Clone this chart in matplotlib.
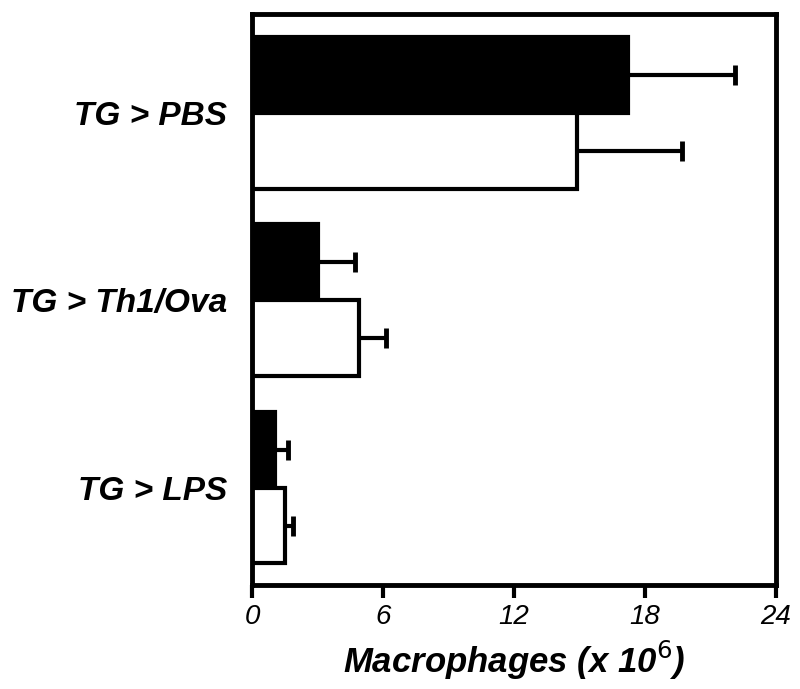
import numpy as np
import matplotlib.pyplot as plt

plt.rcParams['font.family'] = ['Liberation Sans', 'DejaVu Sans']

grupos = ['TG > PBS', 'TG > Th1/Ova', 'TG > LPS']
preto = [17.2, 3.0, 1.05]      # barras pretas
preto_err = [4.9, 1.7, 0.6]
branco = [14.9, 4.9, 1.5]      # barras brancas
branco_err = [4.8, 1.25, 0.4]

y = np.arange(len(grupos))
h = 0.405

fig = plt.figure(figsize=(8, 6.89), dpi=100)
ax = fig.add_axes([0.315, 0.151, 0.655, 0.829])

ax.barh(y - h/2, preto, height=h, color='black', edgecolor='black', linewidth=3, zorder=2)
ax.barh(y + h/2, branco, height=h, color='white', edgecolor='black', linewidth=3, zorder=2)

# barras de erro so para o lado positivo
for yy, vals, errs in [(y - h/2, preto, preto_err), (y + h/2, branco, branco_err)]:
    pl, caps, bars = ax.errorbar(vals, yy, xerr=[np.zeros(3), errs], fmt='none',
                                 ecolor='black', elinewidth=3, capsize=7.5, capthick=3.5, zorder=1)
    caps[0].set_visible(False)

ax.set_xlim(0, 24)
ax.set_ylim(2.52, -0.53)
ax.set_xticks([0, 6, 12, 18, 24])
ax.set_xticklabels(['0', '6', '12', '18', '24'], fontsize=20, style='italic')
ax.set_yticks(y)
ax.set_yticklabels(grupos, fontsize=24, style='italic', fontweight='bold')
ax.tick_params(axis='x', direction='out', length=9, width=3, pad=5)
ax.tick_params(axis='y', length=0, pad=18)
for s in ax.spines.values():
    s.set_linewidth(3.5)

ax.set_xlabel('Macrophages (x 10$^{6}$)', fontsize=25, style='italic', fontweight='bold', labelpad=6)

fig.savefig('out.png', dpi=100)
